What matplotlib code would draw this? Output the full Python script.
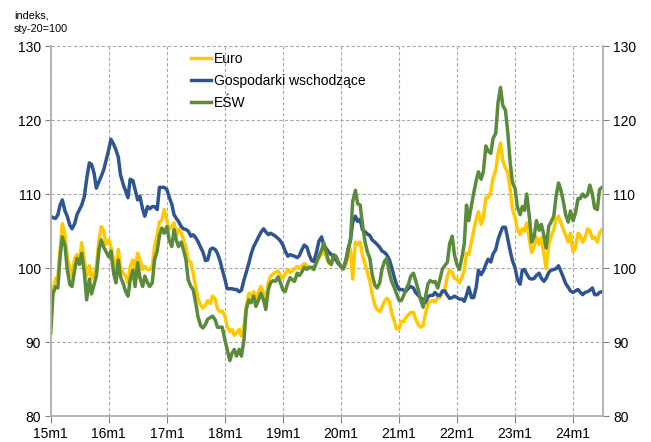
import matplotlib
matplotlib.use("Agg")
import matplotlib.pyplot as plt
import matplotlib.dates as mdates
import pandas as pd

plt.rcParams['font.family'] = ['Liberation Sans', 'DejaVu Sans']

# semi-monthly observation dates, Jan 2015 - Jun 2024
dates = pd.date_range('2015-01-01', periods=229, freq='SMS')

euro = [
    92, 97, 98.6, 98.9, 102.5, 106, 104.5, 101.5, 100, 98.9, 101.3, 101.8, 101.2, 103.4, 101.1,
    98.9, 100.3, 98.5, 99.3, 100.2, 103.8, 105.6, 105, 103.2, 103.8, 102.8, 101.1, 99.3, 102.5, 100.2,
    99.3, 98.9, 98, 100.2, 101.1, 99.8, 102, 101.1, 99.8, 100.2, 99.8, 99.8, 100.2, 102.9, 104.5,
    106.2, 106.5, 107.9, 106.5, 105.2, 105.6, 106.1, 104.3, 105.2, 104.8, 103.8, 102.9, 101.1, 100.7, 99.3,
    97.5, 95.9, 95, 94.6, 95, 95.6, 95.2, 96.2, 95.8, 94.5, 94.1, 94.2, 93.5, 92.1, 91.4,
    91.7, 90.9, 91.2, 91.7, 90.8, 92.1, 94.8, 96.6, 96.2, 96.8, 95.7, 96.8, 97.5, 96.6, 95.7,
    98, 98.9, 99.2,
    99.4, 99.6, 99, 98.6, 99.2, 99.8, 99.4, 99.6, 99.9, 100.2, 99.9, 100.3, 100.6, 100.3, 100,
    99.9, 100.2, 100.9, 101.4, 101.8, 102.5, 101.5, 100.7, 100.4, 101.4, 101.4, 100.9, 100.2, 99.9, 100.5,
    101.5, 102.5, 98.5, 103.5, 103.2, 103.5, 101.8, 100.5, 99.5, 98.2, 96.5, 95, 94.4, 94.1, 94.7, 95.5,
    95.9, 95.5, 93.9, 92.9, 91.8, 91.8, 92.8, 92.8, 93.4, 93.7, 94, 94, 93.1, 92.4, 92,
    92.2, 93.8, 95, 95.5, 95.6, 95.4, 96, 96, 96.8, 97.1, 98.9, 99.7, 99.4, 98.6, 98.5,
    98, 98.8, 99.7, 102, 101.8, 103.5, 105, 106.6, 107.6, 105.9, 106.8, 109.5, 109.5, 110.3, 112.2,
    113.2, 115.5, 116.9, 114.5, 113.5, 113, 110.6, 108, 106.8, 105.3, 104.5, 105.3, 105, 106.1, 103.8,
    102.1, 103, 104.2, 103.2, 104.1, 101.9, 99.9, 103.2, 104.3, 105.2, 106.5, 107, 106.1, 105.2, 104.4,
    103.5, 104.7, 102.2, 102.7, 104.7, 104.4, 103.5, 104, 105.3, 105, 104, 104.2, 103.5, 104.7, 105.2,
]

emerging = [
    107, 106.8, 106.7, 107.2, 108.5, 109.2, 107.7, 107, 105.8, 105.3, 106, 107.2, 107.9, 108.5, 109.7,
    112, 114.2, 114, 112.8, 110.8, 111.7, 112.4, 113.3, 114.5, 116, 117.4, 116.7, 116, 115, 112.6,
    111.3, 110.5, 109.5, 112, 111.8, 110.6, 109.2, 109.7, 108, 107, 108.3, 108, 108.3, 108.3, 107.9,
    110.9, 110.9, 110.9, 110.6, 109.6, 108.6, 107.2, 106.7, 106.3, 105.6, 105.3, 105.2, 105, 104.3, 104.5,
    104.1, 103.6, 102.8, 102.2, 101, 101.1, 102.5, 102.7, 102.5, 102, 101, 99.8, 98.5, 97.2, 97.2,
    97.2, 97.1, 97.1, 96.8, 97, 98.4, 99.4, 100.7, 101.9, 102.9, 103.5, 104.2, 104.8, 105.3, 104.9,
    104.5, 104.7, 104.5,
    104.3, 104, 103.7, 103.1, 102.3, 101.6, 101.8, 101.7, 101.6, 101.4, 101.7, 102.5, 103.1, 102.8, 101.8,
    101, 100.9, 102.2, 103.6, 104.2, 103.1, 102.6, 102.2, 101.8, 101.6, 101.1, 100.6, 100.2, 99.9, 101,
    102.5, 103.8, 106.2, 107, 106.3, 106.6, 105.2, 104.9, 104.6, 104.4, 103.8, 103.5, 103.2, 102.8, 102.3, 102.1,
    101.8, 101.1, 100.1, 98.8, 97.8, 97.1, 97.1, 97, 96.9, 97.3, 97.5, 97.3, 96.7, 96.3, 96,
    95.7, 95.3, 96.1, 96.3, 96.3, 96.7, 96.3, 96.3, 96.9, 96.9, 96.3, 95.9, 96, 96.2, 96,
    95.8, 95.8, 95.5, 96.3, 97.4, 96, 96, 97.4, 99.7, 99.1, 99.6, 100.5, 101.2, 100.8, 101.9,
    102.5, 103.8, 104.8, 105.5, 105.5, 104, 102.3, 101, 100, 98.5, 97.8, 99.7, 99.8, 99.2, 98.6,
    98.5, 98.6, 99, 99.3, 98.6, 98.2, 98.6, 99.4, 99.7, 99.8, 99.9, 100.3, 99.6, 98.7, 97.9,
    97.4, 96.9, 96.7, 96.9, 97.1, 96.7, 96.4, 96.7, 96.8, 97, 97.3, 96.4, 96.4, 96.7, 96.8,
]

esw = [
    91.2, 96.5, 97.5, 97.3, 101.5, 104.2, 103, 99.8, 97.8, 97.5, 99.8, 101.3, 100.5, 102, 99.3,
    95.7, 98.5, 96.5, 97.8, 98.9, 102.5, 103.8, 102.8, 102.2, 101.5, 102.3, 99.3, 98, 101.1, 98.8,
    97.9, 96.9, 96.2, 98.4, 99.7, 97.5, 100.7, 98.7, 97.5, 98.9, 98, 97.5, 98, 101.1, 102.3,
    104.4, 105.4, 104.7, 105.6, 103.8, 102.9, 105.2, 103.8, 102.9, 103.5, 102.5, 101.1, 98.4, 97.5, 97.1,
    95.3, 93.5, 92.2, 91.9, 92.4, 93.1, 93.3, 93.5, 93, 92, 92, 92, 90.3, 89, 87.5,
    88.5, 89, 88.1, 89, 88.1, 90.3, 94.4, 95.7, 95.3, 96.2, 94.8, 95.7, 96.6, 95.7, 94.4,
    97.1, 98, 98.3,
    98.2, 98.8, 98.1, 97, 96.8, 98, 98.7, 98.4, 98.2, 99.3, 99, 99.5, 100.1, 99.8, 100.1,
    100.1, 99.8, 100.8, 101.6, 102.4, 103.4, 102.1, 100.9, 100.5, 101.8, 101.6, 100.8, 100.2, 99.9, 101,
    102.5, 103.8, 109, 110.5, 108.7, 108.5, 106, 103.5, 102.2, 101.3, 99.2, 97.7, 97.3, 98, 99.8, 100.9,
    101.3, 99.3, 98.2, 97.4, 96.6, 95.6, 95.6, 96.4, 97.2, 97.8, 98.9, 99.3, 98.3, 97.1, 95.8,
    94.7, 96, 97.8, 98.3, 98.1, 98.2, 97.3, 98.5, 99.9, 100.3, 100.8, 103.3, 104.3, 101.8, 100.4,
    99.8, 101.5, 103.3, 108.5, 106.4, 108.4, 110.1, 111.8, 113, 112, 113, 116.5, 115.8, 115.5, 117.5,
    118.2, 122.3, 124.4, 122, 121.3, 118.5, 114.2, 111.6, 110.7, 108.3, 107.2, 108.3, 107.8, 110, 106.8,
    103.5, 104.3, 106.4, 105.1, 105.9, 104.4, 102.7, 105.7, 106.2, 107, 109.6, 111.5, 110.6, 108.9, 107.2,
    106.2, 107.7, 106.4, 107.4, 109.4, 109.4, 110, 109.6, 109.9, 111.2, 110, 108.1, 107.9, 110.6, 110.9,
]

series_labels = ['Euro', 'Gospodarki wschodzące', 'EŚW']
series_colors = ['#FFC800', '#2F5590', '#5A8A3A']
tick_years = list(range(2015, 2025))
tick_labels = [f"{y % 100}m1" for y in tick_years]
y_ticks = [80, 90, 100, 110, 120, 130]

fig = plt.figure(figsize=(6.51, 4.42), dpi=100)
ax = fig.add_axes([0.0779, 0.0588, 0.8489, 0.8371])

for vals, col, lab in zip([euro, emerging, esw], series_colors, series_labels):
    ax.plot(dates, vals, color=col, lw=2.5, label=lab, solid_joinstyle='round')

ax.set_xlim(dates[0], dates[-1] + pd.Timedelta(days=8))
ax.set_ylim(80, 130)
ax.set_yticks(y_ticks)
ax.set_xticks([pd.Timestamp(f"{y}-01-01") for y in tick_years])
ax.set_xticklabels(tick_labels)

grid_col = '#A8A8A8'
ax.grid(True, linestyle=(0, (3, 2)), color=grid_col, linewidth=0.8)
ax.set_axisbelow(True)
for side in ['left', 'right', 'bottom']:
    ax.spines[side].set_color('#B0B0B0')
    ax.spines[side].set_linewidth(1.3)
ax.spines['top'].set_visible(False)

ax.yaxis.set_ticks_position('both')
ax.tick_params(axis='y', which='both', labelright=True, labelleft=True, direction='out',
               length=4, width=0.8, color='#808080', labelsize=10, pad=3)
ax.tick_params(axis='x', direction='out', length=5, width=0.8, color='#808080',
               labelsize=10, pad=3)

fig.text(14 / 651, 1 - 11 / 442, 'indeks,\nsty-20=100', fontsize=7.8, va='top', ha='left',
         linespacing=1.35)

fig.legend(loc='upper left', bbox_to_anchor=(191 / 651, 1 - 52 / 442), frameon=False,
           fontsize=10, handlelength=1.45, handletextpad=0.2, labelspacing=0.58,
           borderpad=0, borderaxespad=0)

fig.savefig('out.png', dpi=100)
